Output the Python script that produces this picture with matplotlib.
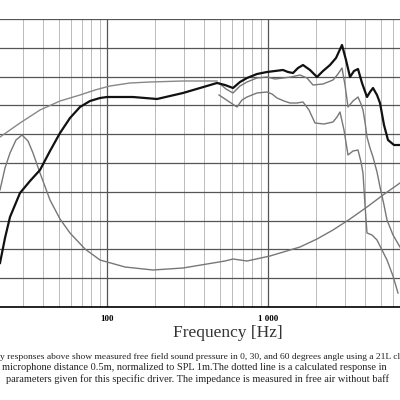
import numpy as np
import matplotlib
matplotlib.use("Agg")
import matplotlib.pyplot as plt

def f(px): return 10**(2+(np.array(px,float)-107)/161)
def d(py): return 50+(307-np.array(py,float))/28.8*5

on_x=[0,5,10,20,30,40,50,60,70,80,90,100,107,120,133,145,157,170,183,200,217,225,233,240,247,257,267,275,283,288,293,298,303,310,317,323,330,336,342,346,350,354,358,362,367,370,373,377,380,384,388,394,400]
on_y=[263,238,217,193,181,170,151,133,118,107,101,98,97,97,97,98,99,96,93,88,83,85,88,82,78,74,72,71,70,72,73,68,65,70,77,71,65,58,45,60,77,71,69,83,97,92,88,95,103,125,140,145,145]
a30_x=[219,226,233,240,247,257,267,275,283,291,300,307,313,323,333,338,342,345,348,353,358,361,363,365,367,370,373,377,380,384,387,393,400]
a30_y=[83,89,93,86,82,78,77,79,78,77,75,78,85,84,80,74,68,85,107,101,97,104,110,122,137,148,157,172,187,205,220,235,247]
a60_x=[219,228,237,242,247,257,267,272,277,284,290,297,303,309,315,324,333,337,340,344,348,353,358,361,363,365,367,372,377,382,387,393,398]
a60_y=[95,101,107,100,97,93,92,94,98,101,103,103,102,110,123,124,122,117,112,130,155,151,150,162,173,205,233,235,240,250,260,276,293]
calc_x=[0,20,40,60,80,95,110,130,150,183,217]
calc_y=[137,123,110,101,95,90,86,83,82,81,81]
imp_x=[0,5,10,16,22,28,33,40,50,60,70,85,100,125,153,183,213,225,233,240,247,270,300,317,333,350,367,383,400]
imp_y=[190,168,153,140,135,141,153,173,200,219,233,249,260,267,270,268,263,261,259,260,261,256,247,239,230,219,207,195,183]

fig=plt.figure(figsize=(4,4),dpi=100)
ax=fig.add_axes([0,1-307/400,1,(307-19)/400])
ax.set_xscale('log')
ax.set_xlim(f(0),f(400)); ax.set_ylim(50,100)
ax.set_yticks(np.arange(50,101,5))
ax.grid(True,which='major',axis='y',color='#555555',lw=0.9)
ax.grid(True,which='major',axis='x',color='#555555',lw=0.9)
ax.grid(True,which='minor',axis='x',color='#bbbbbb',lw=0.7)
for s in ['left','right','top']: ax.spines[s].set_visible(False)
ax.spines['bottom'].set_linewidth(1.2)
ax.tick_params(axis='y',left=False,labelleft=False)
ax.tick_params(axis='x',which='both',length=0,pad=6)
ax.set_xticks([100,1000]); ax.set_xticklabels(['100','1 000'],family='Liberation Serif',fontweight='bold',fontsize=6.5)
ax.xaxis.set_minor_formatter(matplotlib.ticker.NullFormatter())
ax.plot(f(calc_x),d(calc_y),color='#888888',lw=1.0)
ax.plot(f(imp_x),d(imp_y),color='#777777',lw=1.0)
ax.plot(f(a60_x),d(a60_y),color='#777777',lw=1.0)
ax.plot(f(a30_x),d(a30_y),color='#777777',lw=1.0)
ax.plot(f(on_x),d(on_y),color='#111111',lw=1.6)
fig.text(0.57,1-333/400,'Frequency [Hz]',ha='center',va='center',fontsize=12.5,family='Liberation Serif',color='#333333')
cap=['y responses above show measured free field sound pressure in 0, 30, and 60 degrees angle using a 21L clo',
     'microphone distance 0.5m, normalized to SPL 1m.The dotted line is a calculated response in',
     'parameters given for this specific driver. The impedance is measured in free air without baff']
xs=[0.0,0.005,0.015]
sizes=[6.8,7.5,7.5]
for i,(t,x,s) in enumerate(zip(cap,xs,sizes)):
    fig.text(x,1-(357+11*i)/400,t,ha='left',va='center',fontsize=s,family='Liberation Serif',color='#222222')
fig.savefig('out.png',dpi=100)
